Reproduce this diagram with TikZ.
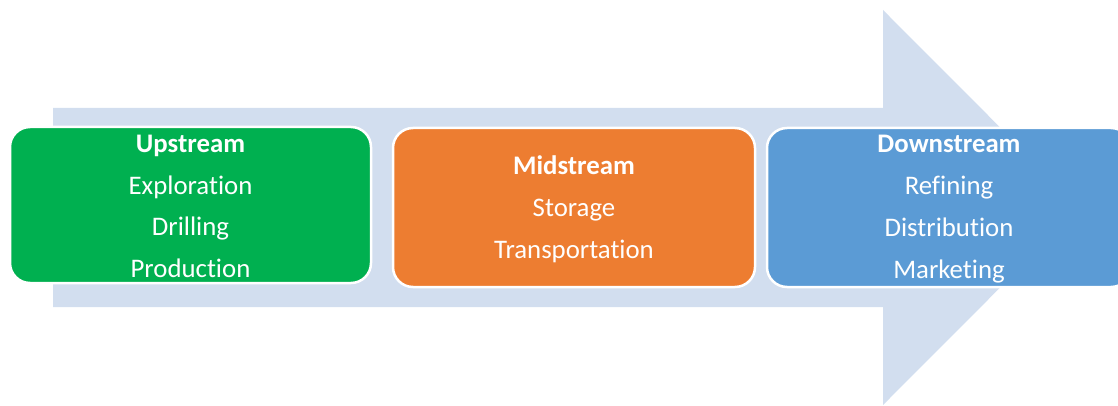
\documentclass[tikz,border=0pt]{standalone}
\usepackage{fontspec}
\setmainfont{Carlito}[Ligatures=NoCommon]
\definecolor{flowbg}{HTML}{D2DEEF}
\definecolor{upgreen}{HTML}{00B050}
\definecolor{midorange}{HTML}{ED7D31}
\definecolor{downblue}{HTML}{5B9BD5}
\tikzset{
  stage/.style={draw=white, line width=2.5pt, rounded corners=20pt,
    inner sep=0pt},
  stagetext/.style={text=white, align=center, inner sep=0pt,
    font=\fontsize{26.8}{41.8}\selectfont},
}
\begin{document}
\begin{tikzpicture}[x=1pt,y=-1pt]
\useasboundingbox (0,0) rectangle (1118,406);
% broad background arrow
\fill[flowbg] (53,108) -- (883,108) -- (883,10) -- (1080,207.5)
  -- (883,405) -- (883,307) -- (53,307) -- cycle;
% value-chain stages
\node[stage, fill=upgreen, minimum width=361pt, minimum height=156pt]
  (up) at (190.5,205) {};
\node[stage, fill=midorange, minimum width=362pt, minimum height=159pt]
  (mid) at (574,207.5) {};
\node[stage, fill=downblue, minimum width=364pt, minimum height=159pt]
  (down) at (949,207.5) {};
% stage labels
\node[stagetext] (upText) at ([yshift=-1.5pt]up.center)
  {\textbf{Upstream}\\Exploration\\Drilling\\Production};
\node[stagetext] (midText) at ([yshift=-1.5pt]mid.center)
  {\textbf{Midstream}\\Storage\\Transportation};
\node[stagetext] (downText) at ([yshift=-1.5pt]down.center)
  {\textbf{Downstream}\\Refining\\Distribution\\Marketing};
\end{tikzpicture}
\end{document}
